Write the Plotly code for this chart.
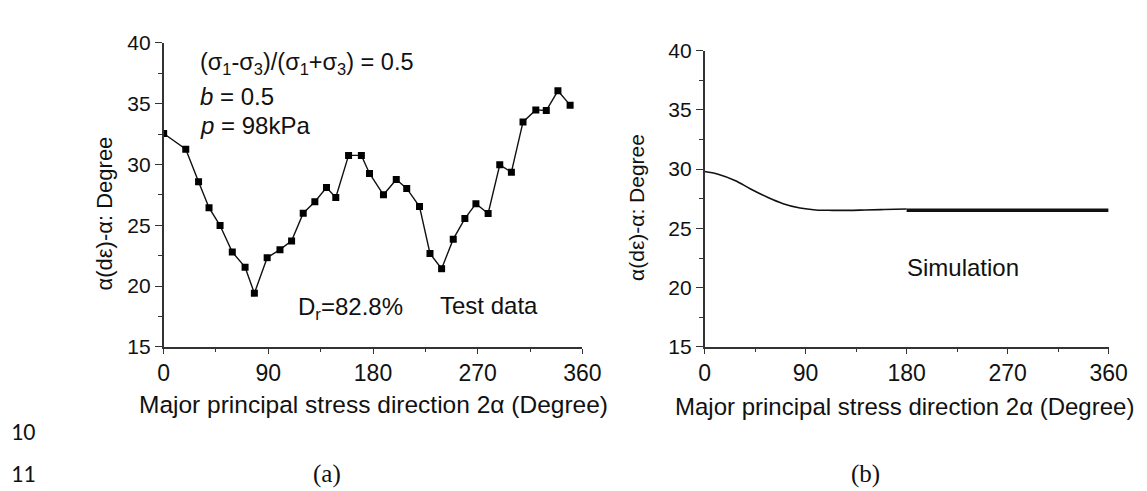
import plotly.graph_objects as go

# ---- data ----
x_test = [0, 19, 30, 39, 48.5, 59, 70, 78, 89, 100, 110, 120, 130, 140, 148, 159, 170, 177,
          189, 200, 209, 220, 229, 239, 249, 259, 268.5, 279, 289, 299, 309, 320, 329, 339, 349.5]
y_test = [32.55, 31.25, 28.58, 26.45, 24.98, 22.8, 21.56, 19.42, 22.34, 23.0, 23.72, 26.0, 26.94,
          28.11, 27.28, 30.75, 30.75, 29.26, 27.51, 28.77, 28.03, 26.54, 22.68, 21.43, 23.86, 25.55,
          26.78, 25.97, 29.97, 29.37, 33.5, 34.49, 34.44, 36.06, 34.88]

x_sim = [0, 12, 27, 41, 56, 70, 85, 99, 114, 128, 143, 157, 170, 180]
y_sim = [29.79, 29.57, 29.04, 28.32, 27.62, 27.08, 26.71, 26.55, 26.52, 26.52, 26.55, 26.58, 26.61, 26.63]
x_sim_cyc = [180, 360]
y_sim_cyc = [26.53, 26.53]

x_ticks = [0, 90, 180, 270, 360]
y_ticks = [15, 20, 25, 30, 35, 40]

W, H = 1147, 491
FONT = "Liberation Sans, Arial, sans-serif"
AX = "#333333"
TXT = "#111111"

def px(x):
    return x / W

def py(y):
    return 1 - y / H

fig = go.Figure()

fig.add_trace(go.Scatter(x=x_test, y=y_test, mode="lines+markers",
                         line=dict(color="#111111", width=1.4),
                         marker=dict(symbol="square", size=7, color="#000000"),
                         xaxis="x", yaxis="y", showlegend=False))

fig.add_trace(go.Scatter(x=x_sim, y=y_sim, mode="lines",
                         line=dict(color="#111111", width=1.6, shape="spline"),
                         xaxis="x2", yaxis="y2", showlegend=False))
fig.add_trace(go.Scatter(x=x_sim_cyc, y=y_sim_cyc, mode="lines",
                         line=dict(color="#111111", width=3.5),
                         xaxis="x2", yaxis="y2", showlegend=False))

def xaxis_cfg(domain, anchor):
    return dict(domain=domain, anchor=anchor, range=[0, 360], tickvals=x_ticks,
                showgrid=False, zeroline=False, showline=True, linecolor=AX, linewidth=1.5,
                ticks="outside", ticklen=5, tickwidth=1.3, tickcolor=AX,
                minor=dict(dtick=45, ticks="outside", ticklen=3, tickwidth=1.2, tickcolor=AX),
                tickfont=dict(family=FONT, size=23, color=TXT), fixedrange=True)

def yaxis_cfg(domain, anchor):
    return dict(domain=domain, anchor=anchor, range=[15, 40], tickvals=y_ticks,
                showgrid=False, zeroline=False, showline=True, linecolor=AX, linewidth=1.5,
                ticks="outside", ticklen=7, tickwidth=1.3, tickcolor=AX,
                minor=dict(dtick=2.5, ticks="outside", ticklen=4, tickwidth=1.2, tickcolor=AX),
                tickfont=dict(family=FONT, size=21, color=TXT), fixedrange=True)

annotations = []

def ann(text, x, y, size=24, xanchor="left", family=FONT, angle=0):
    annotations.append(dict(text=text, x=px(x), y=py(y), xref="paper", yref="paper",
                            xanchor=xanchor, yanchor="middle", showarrow=False, textangle=angle,
                            font=dict(family=family, size=size, color=TXT)))

ann("(σ<sub>1</sub>-σ<sub>3</sub>)/(σ<sub>1</sub>+σ<sub>3</sub>) = 0.5", 188, 46, size=23.5)
ann("<i>b</i> = 0.5", 188, 80)
ann("<i>p</i> = 98kPa", 188, 111)
ann("D<sub>r</sub>=82.8%", 288, 303)
ann("Test data", 433, 300)
ann("Simulation", 911, 260)

ann("Major principal stress direction 2α (Degree)", 367, 403, size=24.5, xanchor="center")
ann("Major principal stress direction 2α (Degree)", 910, 405, size=24, xanchor="center")
ann("α(dε)-α: Degree", 92, 203, size=22, xanchor="center", angle=-90)
ann("α(dε)-α: Degree", 637, 197, size=21, xanchor="center", angle=-90)

ann("10", -5, 432, size=24, family="Carlito, Liberation Sans, sans-serif")
ann("11", -5, 476, size=24, family="Carlito, Liberation Sans, sans-serif")
ann("(a)", 320, 476, size=25, xanchor="center", family="Liberation Serif, Times New Roman, serif")
ann("(b)", 870, 476, size=25, xanchor="center", family="Liberation Serif, Times New Roman, serif")

fig.update_layout(
    width=W, height=H, margin=dict(l=0, r=0, t=0, b=0),
    paper_bgcolor="white", plot_bgcolor="white",
    xaxis=xaxis_cfg([px(153), px(581)], "y"),
    yaxis=yaxis_cfg([py(343), py(24)], "x"),
    xaxis2=xaxis_cfg([px(706), px(1119)], "y2"),
    yaxis2=yaxis_cfg([py(343), py(32)], "x2"),
    annotations=annotations,
)

fig.write_html("out.html")
